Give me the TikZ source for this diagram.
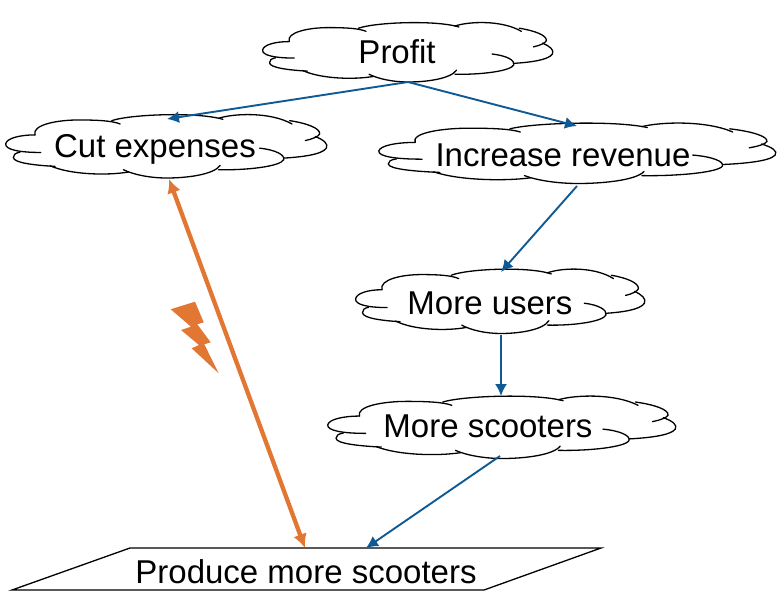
\documentclass[tikz,border=0pt]{standalone}
\usepackage{fontspec}
\setmainfont{Liberation Sans}
\usetikzlibrary{arrows.meta}
\definecolor{linkblue}{HTML}{0F5A94}
\definecolor{clashorange}{HTML}{E27733}
\tikzset{
  outline/.style={draw=black,line width=1.3pt,line cap=round},
  lbl/.style={font=\fontsize{33}{38}\selectfont,inner sep=0pt,text=black},
  link/.style={draw=linkblue,line width=1.9pt,-{Latex[length=12pt,width=12pt]}},
  clash/.style={draw=clashorange,line width=4.3pt,{Latex[length=14pt,width=14pt]}-{Latex[length=14pt,width=14pt]}},
}
\newcommand{\cloudat}[4]{%
  \begin{scope}[shift={(#1,#2)},xscale={#3/965},yscale={#4/193}]
  \begin{scope}[shift={(-497.5,-438.5)}]
  \draw[outline] (105,405) .. controls (95,375) and (170,360) .. (235,360) .. controls (290,360) and (335,362) .. (360,372);
  \draw[outline] (335,362) .. controls (390,343) and (590,335) .. (668,358);
  \draw[outline] (655,355) .. controls (700,340) and (810,335) .. (875,372);
  \draw[outline] (868,362) .. controls (920,370) and (960,385) .. (958,402) .. controls (955,410) and (935,418) .. (915,422);
  \draw[outline] (945,410) .. controls (970,420) and (985,432) .. (978,445) .. controls (965,465) and (900,472) .. (850,475);
  \draw[outline] (778,445) .. controls (825,450) and (855,465) .. (850,480) .. controls (840,500) and (740,512) .. (655,510);
  \draw[outline] (660,497) .. controls (640,525) and (560,535) .. (500,535) .. controls (450,535) and (400,525) .. (370,510);
  \draw[outline] (385,517) .. controls (320,528) and (210,525) .. (150,498);
  \draw[outline] (165,500) .. controls (110,497) and (40,490) .. (40,473) .. controls (40,465) and (45,460) .. (60,457);
  \draw[outline] (122,458) .. controls (60,458) and (15,450) .. (17,432) .. controls (20,415) and (60,405) .. (105,405);
  \end{scope}
  \end{scope}}
\begin{document}
\begin{tikzpicture}[x=1pt,y=-1pt]
\useasboundingbox (0,0) rectangle (778,608);
\fill[white] (0,0) rectangle (778,608);
\cloudat{407.5}{52}{291}{60}
\cloudat{166}{146}{322}{64}
\cloudat{577}{153}{398}{61}
\cloudat{500}{301}{290}{65}
\cloudat{501.5}{427}{349}{63}
\draw[outline,line cap=butt,line join=miter] (130,548) -- (601,548) -- (484,590) -- (12,590) -- cycle;
\node[lbl] (profit) at (397,52) {Profit};
\node[lbl] (cut) at (155,149.5) {Cut expenses};
\node[lbl] (revenue) at (563,155) {Increase revenue};
\node[lbl] (users) at (490,303) {More users};
\node[lbl] (scooters) at (488,426) {More scooters};
\node[lbl] (produce) at (306,572) {Produce more scooters};
\draw[link] ([shift={(11,30)}]profit.center) -- ([shift={(12,-30.5)}]cut.center);
\draw[link] ([shift={(11,30)}]profit.center) -- ([shift={(14,-29)}]revenue.center);
\draw[link] ([shift={(14,31)}]revenue.center) -- ([shift={(11,-31)}]users.center);
\draw[link] ([shift={(11,32)}]users.center) -- ([shift={(13,-30)}]scooters.center);
\draw[link] ([shift={(12,30)}]scooters.center) -- ([shift={(60,-24)}]produce.center);
\draw[clash] ([shift={(14,29.5)}]cut.center) -- ([shift={(-1,-24)}]produce.center);
\fill[clashorange] (170.7,309.3) -- (195,301.7) -- (203.7,322.3) -- (197.3,324.3) -- (210.7,342.3) -- (204.3,344.3) -- (218.7,373.3) -- (191.7,348.3) -- (199,345) -- (181,330) -- (191,326.7) -- cycle;
\end{tikzpicture}
\end{document}
